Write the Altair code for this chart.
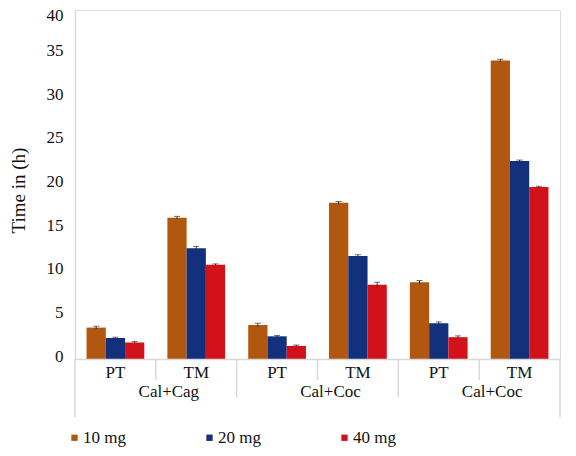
import altair as alt
import pandas as pd

# ---- data ----
groups = ["Cal+Cag", "Cal+Coc", "Cal+Coc"]
tests = ["PT", "TM"]
doses = ["10 mg", "20 mg", "40 mg"]
vals_10 = [3.6, 16.2, 3.9, 17.9, 8.8, 34.2]
vals_20 = [2.4, 12.7, 2.6, 11.8, 4.1, 22.7]
vals_40 = [1.9, 10.8, 1.5, 8.5, 2.5, 19.7]
errs_10 = [0.15, 0.15, 0.2, 0.15, 0.2, 0.15]
errs_20 = [0.1, 0.2, 0.1, 0.15, 0.15, 0.1]
errs_40 = [0.1, 0.1, 0.1, 0.3, 0.15, 0.1]
colors = ["#B2570F", "#12307B", "#D3111B"]

FONT = "Liberation Serif"
GREY = "#d9d9d9"

cats = [f"{gi}|{t}" for gi in range(len(groups)) for t in tests]

rows = []
for ci, c in enumerate(cats):
    for d, vals, errs in zip(doses, [vals_10, vals_20, vals_40], [errs_10, errs_20, errs_40]):
        rows.append({"cat": c, "dose": d, "value": vals[ci],
                     "lo": vals[ci] - errs[ci], "hi": vals[ci] + errs[ci]})
df = pd.DataFrame(rows)

xscale = alt.Scale(domain=cats, paddingInner=0, paddingOuter=0)
offscale = alt.Scale(domain=doses, paddingInner=0, paddingOuter=0.6)
yscale = alt.Scale(domain=[0, 40])

H = 349

x_axis = alt.Axis(title=None, labelExpr="split(datum.label, '|')[1]", labelAngle=0,
                  labelFont=FONT, labelFontSize=17, labelColor="#111", ticks=False,
                  labelPadding=5, domainColor=GREY, domainWidth=1.5, grid=False, zindex=1)
y_axis = alt.Axis(title="Time in (h)", values=list(range(0, 41, 5)), ticks=False,
                  labelFont=FONT, labelFontSize=17, labelColor="#111", labelPadding=12,
                  labelOffset={"condition": {"test": "datum.value == 40", "value": 5}, "value": -3},
                  titleFont=FONT, titleFontSize=19, titleFontWeight="normal", titleColor="#111",
                  titleX=-57, titleY=180, titleBaseline="middle", titleAngle=270,
                  domainColor=GREY, domainWidth=1.5, grid=False)

bars = alt.Chart(df).mark_bar().encode(
    x=alt.X("cat:N", scale=xscale, axis=x_axis, sort=cats),
    xOffset=alt.XOffset("dose:N", scale=offscale),
    y=alt.Y("value:Q", scale=yscale, axis=y_axis),
    color=alt.Color("dose:N", scale=alt.Scale(domain=doses, range=colors),
                    legend=alt.Legend(title=None, orient="none", legendX=-9, legendY=419,
                                      direction="horizontal", symbolType="square",
                                      symbolSize=40, symbolStrokeWidth=0, labelOffset=0,
                                      labelFont=FONT, labelFontSize=17, labelColor="#111",
                                      columnPadding=75)),
)

err_rule = alt.Chart(df).mark_rule(color="#333", strokeWidth=1).encode(
    x=alt.X("cat:N", scale=xscale, sort=cats),
    xOffset=alt.XOffset("dose:N", scale=offscale),
    y=alt.Y("lo:Q", scale=yscale),
    y2="hi:Q",
)
err_cap = alt.Chart(df).mark_tick(color="#333", thickness=1, size=6).encode(
    x=alt.X("cat:N", scale=xscale, sort=cats),
    xOffset=alt.XOffset("dose:N", scale=offscale),
    y=alt.Y("hi:Q", scale=yscale),
)

# separators of the two-level category axis
inner = pd.DataFrame({"cat": [cats[1], cats[3], cats[5]]})
outer = pd.DataFrame({"cat": [cats[2], cats[4]]})
left_end = pd.DataFrame({"cat": [cats[0]]})
right_end = pd.DataFrame({"cat": [cats[5]]})

def sep(data, band, length):
    return alt.Chart(data).mark_rule(color=GREY, strokeWidth=1.5).encode(
        x=alt.X("cat:N", scale=xscale, sort=cats, bandPosition=band),
        y=alt.value(H), y2=alt.value(H + length),
    )

seps = (sep(inner, 0, 21) + sep(outer, 0, 38) + sep(left_end, 0, 58) + sep(right_end, 1, 58))

glabels = pd.DataFrame({"cat": [f"{gi}|PT" for gi in range(len(groups))], "name": groups})
group_text = alt.Chart(glabels).mark_text(font=FONT, fontSize=17, color="#111",
                                          baseline="middle", dx=13).encode(
    x=alt.X("cat:N", scale=xscale, sort=cats, bandPosition=1),
    y=alt.value(382),
    text="name:N",
)

chart = alt.layer(bars, seps, err_rule, err_cap, group_text).properties(
    width=485, height=H,
    autosize=alt.AutoSizeParams(type="none"),
    padding={"left": 67, "top": 2, "right": 5, "bottom": 89},
).configure_view(stroke=None).configure(font=FONT)

chart.save("out.html", embed_options={"renderer": "svg", "actions": False})
